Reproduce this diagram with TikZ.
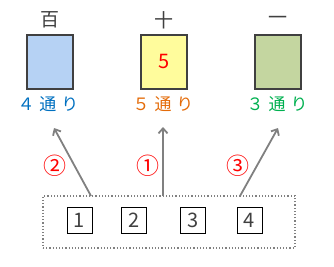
\documentclass[tikz,border=0pt]{standalone}
\usepackage{fontspec}
\newfontfamily\jp{Noto Sans CJK JP}
\usetikzlibrary{arrows.meta}
\usepackage{xcolor}
\definecolor{boxline}{RGB}{64,64,64}
\definecolor{arrowgray}{RGB}{128,128,128}
\definecolor{hyakufill}{RGB}{182,210,244}
\definecolor{jufill}{RGB}{255,252,156}
\definecolor{ichifill}{RGB}{196,214,160}
\definecolor{cntblue}{RGB}{0,112,192}
\definecolor{cntorange}{RGB}{228,108,10}
\definecolor{cntgreen}{RGB}{0,176,80}
\newcommand{\cgap}{\hspace{5pt}}

\begin{document}
\begin{tikzpicture}[x=1pt, y=-1pt, every node/.style={font=\jp}]
\tikzstyle{place}=[draw=boxline, line width=2.4pt, minimum width=46pt, minimum height=54pt, inner sep=0pt]
\tikzstyle{head}=[font=\jp\fontsize{19}{19}\selectfont, text=boxline]
\tikzstyle{count}=[font=\jp\fontsize{17}{17}\selectfont]
\tikzstyle{card}=[draw=black, line width=0.8pt, minimum width=25pt, minimum height=26pt, inner sep=0pt, font=\jp\fontsize{20}{20}\selectfont, text=boxline]
\tikzstyle{pick}=[draw=arrowgray, line width=1.8pt, -{Straight Barb[length=5pt, width=9pt]}]
\tikzstyle{order}=[text=red, font=\jp\fontsize{23}{23}\selectfont]
\useasboundingbox (0,0) rectangle (334,267);
% three places
\node[place, fill=hyakufill] (h) at (50,62) {};
\node[place, fill=jufill] (t) at (164,62) {\fontsize{20}{20}\selectfont\textcolor{red}{5}};
\node[place, fill=ichifill] (o) at (278,62) {};
\node[head] (hh) at (50,20) {百};
\node[head] (th) at (164,20) {十};
\node[head] (oh) at (278,20) {一};
\node[count, text=cntblue] (hc) at (48,104) {４\cgap 通\cgap り};
\node[count, text=cntorange] (tc) at (163,104) {５\cgap 通\cgap り};
\node[count, text=cntgreen] (oc) at (277,104) {３\cgap 通\cgap り};
% cards
\node[draw=arrowgray, dotted, line width=1.2pt, minimum width=252pt, minimum height=52pt] (grp) at (169,222) {};
\node[card] (c1) at (79.5,220.5) {1};
\node[card] (c2) at (134,220.5) {2};
\node[card] (c3) at (193,220.5) {3};
\node[card] (c4) at (249.5,220.5) {4};
% arrows
\coordinate (s1) at (91,196);
\coordinate (s2) at (163,196);
\coordinate (s3) at (240,196);
\coordinate (e1) at (54,128);
\coordinate (e2) at (163,127);
\coordinate (e3) at (278,128);
\draw[pick] (s1) -- (e1);
\draw[pick] (s2) -- (e2);
\draw[pick] (s3) -- (e3);
\node[order] (n2) at (55,166) {②};
\node[order] (n1) at (148,166) {①};
\node[order] (n3) at (238,166) {③};
\end{tikzpicture}
\end{document}
